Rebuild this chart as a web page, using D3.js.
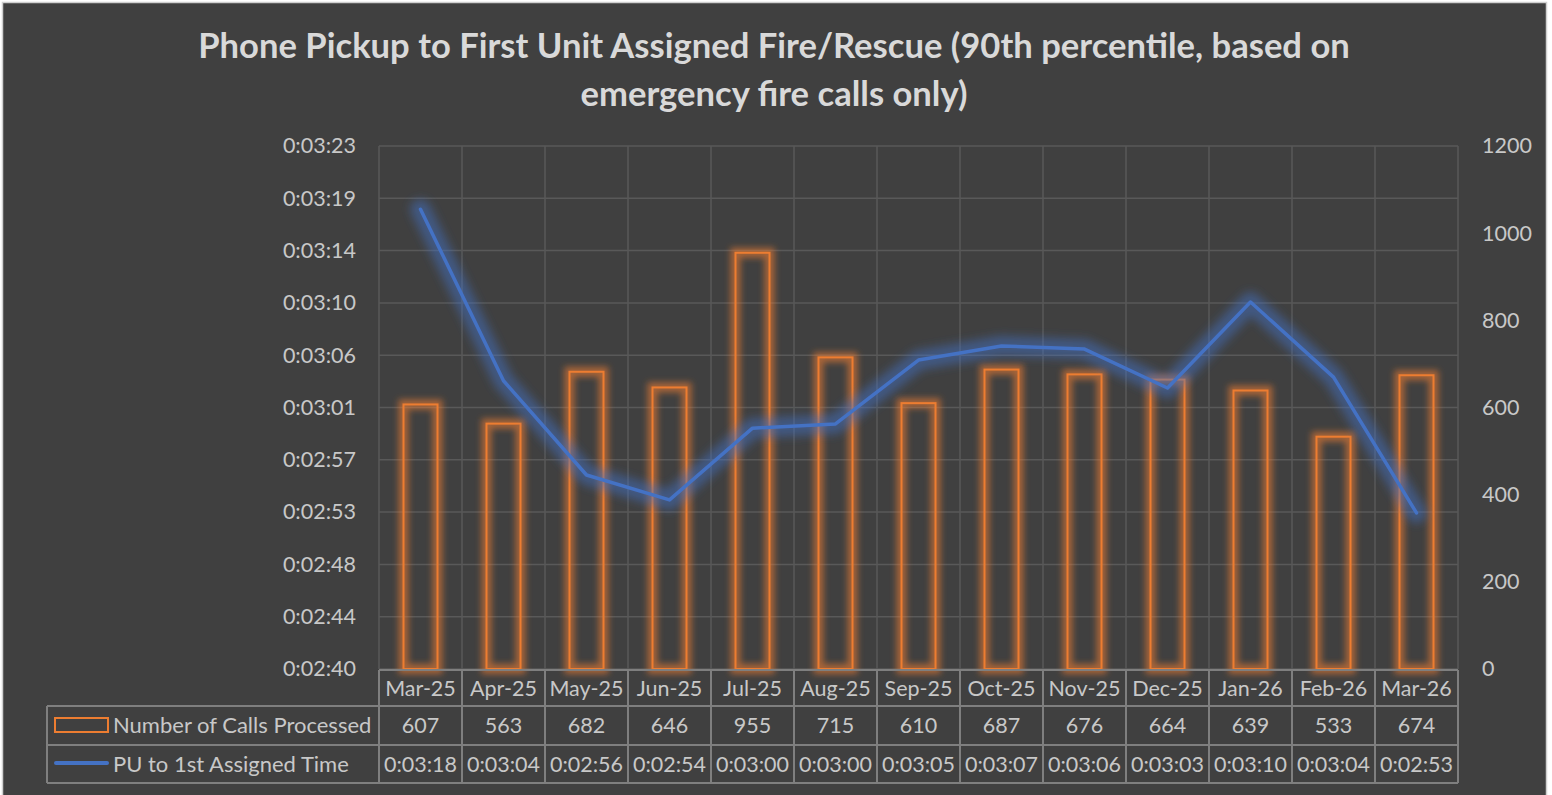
<!DOCTYPE html>
<html>
<head>
<meta charset="utf-8">
<script src="https://cdn.jsdelivr.net/npm/d3@7"></script>
<style>
  body { margin: 0; background: #ffffff; }
  svg text { font-family: Lato, "Open Sans", sans-serif; }
</style>
</head>
<body>
<div id="chart"></div>
<script>
// values
const months = ['Mar-25', 'Apr-25', 'May-25', 'Jun-25', 'Jul-25', 'Aug-25', 'Sep-25',
  'Oct-25', 'Nov-25', 'Dec-25', 'Jan-26', 'Feb-26', 'Mar-26'];
const callsProcessed = [607, 563, 682, 646, 955, 715, 610, 687, 676, 664, 639, 533, 674];
// PU to 1st assigned time, in seconds (fractions estimated from the line)
const assignSeconds = [197.8, 183.7, 175.95, 173.9, 179.8, 180.15, 185.4, 186.56, 186.3, 183.1, 190.17, 184.0, 172.83];
const leftTicks = ['0:02:40', '0:02:44', '0:02:48', '0:02:53', '0:02:57', '0:03:01',
  '0:03:06', '0:03:10', '0:03:14', '0:03:19', '0:03:23'];
const rightTicks = [0, 200, 400, 600, 800, 1000, 1200];
const seriesNames = ['Number of Calls Processed', 'PU to 1st Assigned Time'];
const titleLines = ['Phone Pickup to First Unit Assigned Fire/Rescue (90th percentile, based on',
  'emergency fire calls only)'];

const width = 1552, height = 795;
const plot = { left: 379, right: 1458, top: 146, bottom: 669 };
const tbl = { left: 47, rowTops: [670, 706, 745, 783] };

const orange = '#ed7d31', blue = '#4472c4';
const gridColor = '#595959', tableColor = '#7f7f7f', labelColor = '#c8c8c8';

const svg = d3.select('#chart').append('svg')
  .attr('width', width)
  .attr('height', height);

const defs = svg.append('defs');
defs.append('filter').attr('id', 'glowSoft')
  .attr('x', '-50%').attr('y', '-50%').attr('width', '200%').attr('height', '200%')
  .append('feGaussianBlur').attr('stdDeviation', 3);
defs.append('filter').attr('id', 'glowWide')
  .attr('x', '-50%').attr('y', '-50%').attr('width', '200%').attr('height', '200%')
  .append('feGaussianBlur').attr('stdDeviation', 5);

// chart background + border
svg.append('rect')
  .attr('x', 2.5).attr('y', 2.5)
  .attr('width', 1544).attr('height', 800)
  .attr('fill', '#404040')
  .attr('stroke', '#d0d0d0')
  .attr('stroke-width', 1.5);

// title
svg.append('g').selectAll('text')
  .data(titleLines)
  .join('text')
  .attr('x', 774)
  .attr('y', (d, i) => 58 + i * 48)
  .attr('text-anchor', 'middle')
  .attr('font-size', 34.6)
  .attr('font-weight', 'bold')
  .attr('fill', '#d9d9d9')
  .text(d => d);

// scales
const x = d3.scaleBand().domain(months).range([plot.left, plot.right]);
const yLeft = d3.scaleLinear().domain([160, 203]).range([plot.bottom, plot.top]);
const yRight = d3.scaleLinear().domain([0, 1200]).range([plot.bottom, plot.top]);
const leftTickVals = d3.range(leftTicks.length).map(i => 160 + i * 4.3);

// gridlines
const grid = svg.append('g');
grid.selectAll('line.h')
  .data(leftTickVals)
  .join('line')
  .attr('class', 'h')
  .attr('x1', plot.left).attr('x2', plot.right)
  .attr('y1', d => yLeft(d)).attr('y2', d => yLeft(d))
  .attr('stroke', gridColor).attr('stroke-width', 1.5);
grid.selectAll('line.v')
  .data(months.concat(['end']))
  .join('line')
  .attr('class', 'v')
  .attr('x1', (d, i) => plot.left + i * x.bandwidth())
  .attr('x2', (d, i) => plot.left + i * x.bandwidth())
  .attr('y1', plot.top).attr('y2', plot.bottom)
  .attr('stroke', gridColor).attr('stroke-width', 1.5);

// left axis labels
const leftAxis = d3.axisLeft(yLeft)
  .tickValues(leftTickVals)
  .tickFormat((d, i) => leftTicks[i])
  .tickSize(0)
  .tickPadding(23);
svg.append('g')
  .attr('transform', `translate(${plot.left},0)`)
  .call(leftAxis)
  .call(g => g.select('.domain').remove())
  .call(g => g.selectAll('text')
    .attr('fill', labelColor)
    .attr('font-size', 21.5)
    .attr('font-family', 'Lato'));

// right axis labels
const rightAxis = d3.axisRight(yRight)
  .tickValues(rightTicks)
  .tickFormat(d3.format('d'))
  .tickSize(0)
  .tickPadding(24);
svg.append('g')
  .attr('transform', `translate(${plot.right},0)`)
  .call(rightAxis)
  .call(g => g.select('.domain').remove())
  .call(g => g.selectAll('text')
    .attr('fill', labelColor)
    .attr('font-size', 21.5)
    .attr('font-family', 'Lato'));

// bars (outline only, with glow)
const barW = 34;
const bars = svg.append('g');
bars.selectAll('rect.glow')
  .data(callsProcessed)
  .join('rect')
  .attr('class', 'glow')
  .attr('x', (d, i) => x(months[i]) + x.bandwidth() / 2 - barW / 2)
  .attr('y', d => yRight(d))
  .attr('width', barW)
  .attr('height', d => plot.bottom - yRight(d))
  .attr('fill', 'none')
  .attr('stroke', orange)
  .attr('stroke-opacity', 0.6)
  .attr('stroke-width', 10)
  .attr('filter', 'url(#glowSoft)');
bars.selectAll('rect.bar')
  .data(callsProcessed)
  .join('rect')
  .attr('class', 'bar')
  .attr('x', (d, i) => x(months[i]) + x.bandwidth() / 2 - barW / 2)
  .attr('y', d => yRight(d))
  .attr('width', barW)
  .attr('height', d => plot.bottom - yRight(d))
  .attr('fill', 'none')
  .attr('stroke', orange)
  .attr('stroke-width', 2);

// line (with glow)
const line = d3.line()
  .x((d, i) => x(months[i]) + x.bandwidth() / 2)
  .y(d => yLeft(d));
svg.append('path')
  .datum(assignSeconds)
  .attr('d', line)
  .attr('fill', 'none')
  .attr('stroke', blue)
  .attr('stroke-opacity', 0.5)
  .attr('stroke-width', 20)
  .attr('stroke-linejoin', 'round')
  .attr('stroke-linecap', 'round')
  .attr('filter', 'url(#glowWide)');
svg.append('path')
  .datum(assignSeconds)
  .attr('d', line)
  .attr('fill', 'none')
  .attr('stroke', blue)
  .attr('stroke-width', 3.5)
  .attr('stroke-linejoin', 'round')
  .attr('stroke-linecap', 'round');

// data table
const fmtTime = s => {
  const t = Math.round(s);
  return '0:' + d3.format('02')(Math.floor(t / 60)) + ':' + d3.format('02')(t % 60);
};
const table = svg.append('g');
const [r0, r1, r2, r3] = tbl.rowTops;
const hLines = [
  [plot.left, plot.right, r0],
  [tbl.left, plot.right, r1],
  [tbl.left, plot.right, r2],
  [tbl.left, plot.right, r3]
];
table.selectAll('line.h')
  .data(hLines)
  .join('line')
  .attr('x1', d => d[0]).attr('x2', d => d[1])
  .attr('y1', d => d[2]).attr('y2', d => d[2])
  .attr('stroke', tableColor).attr('stroke-width', 2);
table.selectAll('line.v')
  .data(months.concat(['end']))
  .join('line')
  .attr('x1', (d, i) => plot.left + i * x.bandwidth())
  .attr('x2', (d, i) => plot.left + i * x.bandwidth())
  .attr('y1', r0).attr('y2', r3)
  .attr('stroke', tableColor).attr('stroke-width', 2);
table.append('line')
  .attr('x1', tbl.left).attr('x2', tbl.left)
  .attr('y1', r1).attr('y2', r3)
  .attr('stroke', tableColor).attr('stroke-width', 2);

const cellText = (vals, yMid) => table.append('g').selectAll('text')
  .data(vals)
  .join('text')
  .attr('x', (d, i) => x(months[i]) + x.bandwidth() / 2)
  .attr('y', yMid)
  .attr('dy', '0.35em')
  .attr('text-anchor', 'middle')
  .attr('font-size', 21.5)
  .attr('fill', labelColor)
  .text(d => d);
cellText(months, (r0 + r1) / 2);
cellText(callsProcessed, (r1 + r2) / 2);
cellText(assignSeconds.map(fmtTime), (r2 + r3) / 2);

// legend keys inside table
table.append('rect')
  .attr('x', 55).attr('y', 718)
  .attr('width', 53).attr('height', 14)
  .attr('fill', 'none')
  .attr('stroke', orange).attr('stroke-width', 2);
table.append('line')
  .attr('x1', 56).attr('x2', 107)
  .attr('y1', 763).attr('y2', 763)
  .attr('stroke', blue).attr('stroke-width', 4)
  .attr('stroke-linecap', 'round');
table.selectAll('text.key')
  .data(seriesNames)
  .join('text')
  .attr('class', 'key')
  .attr('x', 113)
  .attr('y', (d, i) => i === 0 ? (r1 + r2) / 2 : (r2 + r3) / 2)
  .attr('dy', '0.35em')
  .attr('font-size', 22)
  .attr('fill', labelColor)
  .text(d => d);
</script>
</body>
</html>
